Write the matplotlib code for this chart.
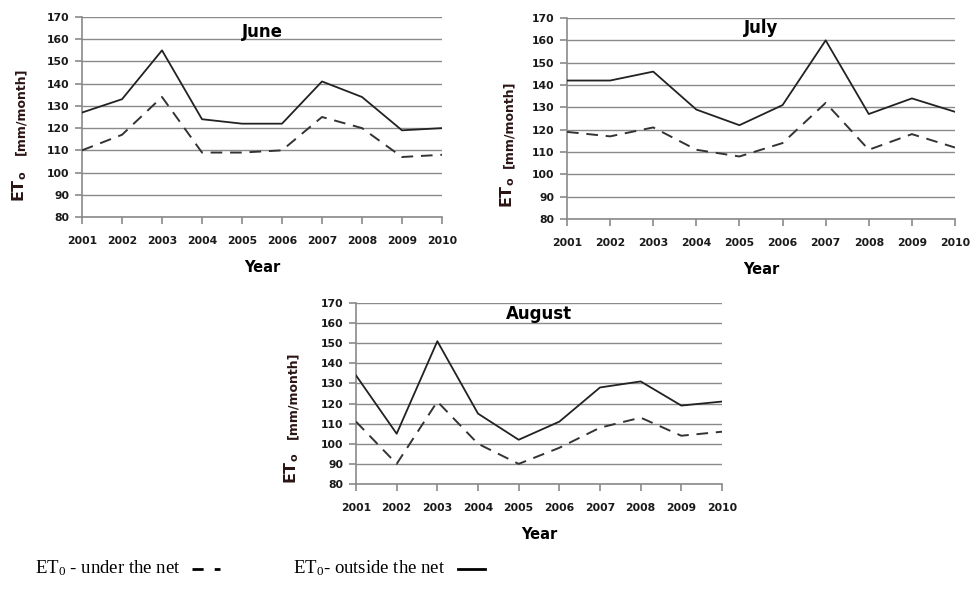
import matplotlib
matplotlib.use("Agg")
import matplotlib.pyplot as plt
from matplotlib.lines import Line2D

# data
years = ["2001", "2002", "2003", "2004", "2005", "2006", "2007", "2008", "2009", "2010"]
june_out = [127, 133, 155, 124, 122, 122, 141, 134, 119, 120]
june_under = [110, 117, 134, 109, 109, 110, 125, 120, 107, 108]
july_out = [142, 142, 146, 129, 122, 131, 160, 127, 134, 128]
july_under = [119, 117, 121, 111, 108, 114, 132, 111, 118, 112]
aug_out = [134, 105, 151, 115, 102, 111, 128, 131, 119, 121]
aug_under = [111, 90, 121, 100, 90, 98, 108, 113, 104, 106]
yticks = list(range(80, 171, 10))

W, H = 975, 589
fig = plt.figure(figsize=(W / 100, H / 100), dpi=100)


def px(x, y):
    return x / W, 1 - y / H


def make_panel(l, t, r, b, title, out, under, title_y, lab_x, et_y, br_y):
    ax = fig.add_axes([l / W, 1 - b / H, (r - l) / W, (b - t) / H])
    xs = range(len(years))
    ax.plot(xs, under, color="#333333", lw=1.4, dashes=(6, 4), zorder=3)
    ax.plot(xs, out, color="#222222", lw=1.3, zorder=4)
    ax.set_xlim(0, len(years) - 1)
    ax.set_ylim(80, 170)
    ax.set_yticks(yticks)
    ax.set_xticks(list(xs))
    ax.set_xticklabels(years)
    ax.grid(axis="y", color="#8a8a8a", lw=1.0)
    ax.set_axisbelow(True)
    for s in ["top", "right"]:
        ax.spines[s].set_visible(False)
    for s in ["left", "bottom"]:
        ax.spines[s].set_color("#8a8a8a")
        ax.spines[s].set_linewidth(1.2)
    ax.tick_params(colors="#8a8a8a", labelcolor="#1a1a1a", length=5, width=1.2,
                   labelsize=7.8, pad=4)
    ax.tick_params(axis="x", pad=9)
    for lab in ax.get_xticklabels() + ax.get_yticklabels():
        lab.set_fontweight("bold")
    ax.text(0.5, title_y, title, transform=ax.transAxes, ha="center", va="center",
            fontsize=12, fontweight="bold")
    ax.set_xlabel("Year", fontsize=10.5, fontweight="bold", labelpad=10)
    # y label: big ET with subscript, smaller unit text
    fig.text(*px(lab_x, et_y), r"ET$_\mathregular{o}$", rotation=90, ha="center",
             va="bottom", fontsize=11.5, fontweight="bold", color="#2a1414")
    fig.text(*px(lab_x + 1, br_y), "[mm/month]", rotation=90, ha="center",
             va="center", fontsize=9, fontweight="bold", color="#2a1414")
    return ax


make_panel(82, 17, 442, 217, "June", june_out, june_under, 0.925, 20, 202, 111)
make_panel(567, 18, 955, 219, "July", july_out, july_under, 0.95, 508, 208, 124)
make_panel(356, 303, 722, 484, "August", aug_out, aug_under, 0.94, 292, 484, 395)

# legend at the bottom
fig.text(*px(35, 568), r"ET$\mathregular{_0}$ - under the net", fontsize=13.5,
         family="Liberation Serif", va="center")
fig.text(*px(293, 568), r"ET$\mathregular{_0}$- outside the net", fontsize=13.5,
         family="Liberation Serif", va="center")
fig.add_artist(Line2D([192 / W, 220 / W], [1 - 569 / H] * 2, color="black", lw=2,
                      dashes=(4, 4)))
fig.add_artist(Line2D([458 / W, 485 / W], [1 - 569 / H] * 2, color="black", lw=2))

fig.savefig("out.png", dpi=100)
